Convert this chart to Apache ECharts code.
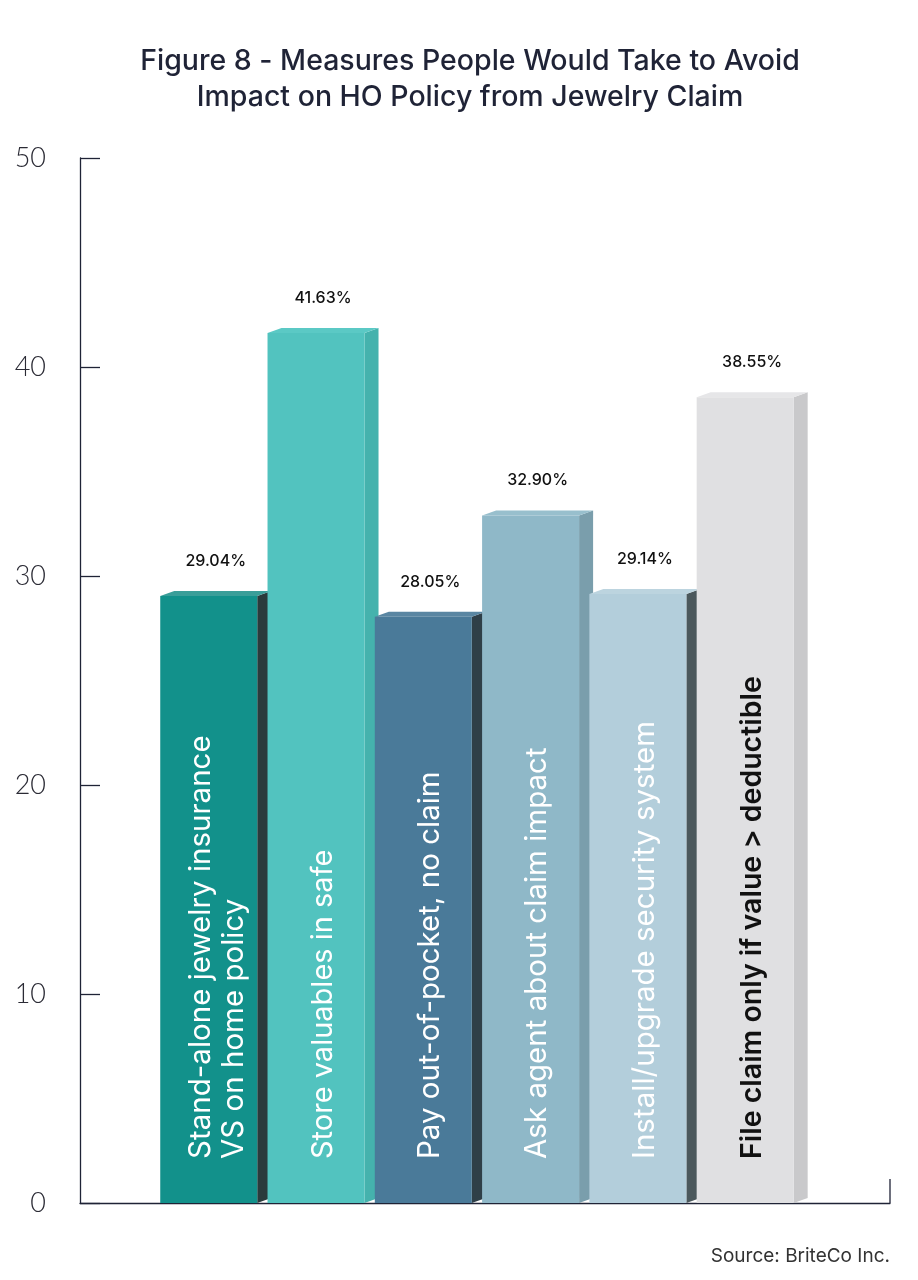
<!DOCTYPE html>
<html>
<head>
<meta charset="utf-8">
<script src="https://cdn.jsdelivr.net/npm/echarts@6/dist/echarts.min.js"></script>
<style>
html,body{margin:0;padding:0;background:#fff;}
#chart{width:918px;height:1280px;}
</style>
</head>
<body>
<div id="chart"></div>
<script>
// ---- data ----
const categories = [
  "Stand-alone jewelry insurance\nVS on home policy",
  "Store valuables in safe",
  "Pay out-of-pocket, no claim",
  "Ask agent about claim impact",
  "Install/upgrade security system",
  "File claim only if value > deductible"
];
const values = [29.04, 41.63, 28.05, 32.90, 29.14, 38.55];
const valueLabels = ["29.04%", "41.63%", "28.05%", "32.90%", "29.14%", "38.55%"];
const yTicks = [0, 10, 20, 30, 40, 50];

// ---- styles ----
const frontColors = ["#12918b", "#52c3bf", "#4a7a99", "#8fb8c8", "#b3cedb", "#e0e0e2"];
const litSideColors = ["#0e7a75", "#45b2ad", "#3e6984", "#7a9eac", "#9fb9c5", "#c9c9cb"];
const shadowSideColors = ["#2a3b3c", "#2a3b3c", "#2f3f48", "#3b4a52", "#4b585c", "#555"];
const topColors = ["#3a9e99", "#5bc9c5", "#5a86a2", "#98bfcd", "#bcd4df", "#e6e6e8"];
const textColors = ["#ffffff", "#ffffff", "#ffffff", "#ffffff", "#ffffff", "#111111"];
const textFonts = ["400 29.5px Inter", "400 29px Inter", "400 29.5px Inter", "400 29.5px Inter", "400 29.5px Inter", "600 28.5px Inter"];

const chart = echarts.init(document.getElementById('chart'), null, {renderer: 'canvas'});

const FRONT_W = 97, DX = 14, DY = 5;

function renderItem(params, api) {
  const idx = api.value(0);
  const val = api.value(1);
  const top = api.coord([idx, val]);
  const base = api.coord([idx, 0]);
  const x0 = top[0] - FRONT_W / 2;
  const x1 = top[0] + FRONT_W / 2;
  const yT = top[1], yB = base[1];
  const next = values[idx + 1];
  const sideColor = (next !== undefined && next > val) ? shadowSideColors[idx] : litSideColors[idx];
  return {
    type: 'group',
    children: [
      { type: 'polygon', shape: { points: [[x1, yT], [x1 + DX, yT - DY], [x1 + DX, yB - DY], [x1, yB]] },
        style: { fill: sideColor } },
      { type: 'polygon', shape: { points: [[x0, yT], [x0 + DX, yT - DY], [x1 + DX, yT - DY], [x1, yT]] },
        style: { fill: topColors[idx] } },
      { type: 'rect', shape: { x: x0, y: yT, width: FRONT_W, height: yB - yT },
        style: { fill: frontColors[idx] } },
      { type: 'text', x: top[0] + 7, y: yT - 35,
        style: { text: valueLabels[idx], fill: '#111', font: '500 16px Inter', align: 'center', verticalAlign: 'middle' } },
      { type: 'text', x: top[0] + 7 + (idx === 0 ? 2 : 0), y: yB - 44, rotation: Math.PI / 2,
        style: { text: categories[idx], fill: textColors[idx], font: textFonts[idx],
                 lineHeight: 33, align: 'left', verticalAlign: 'middle' } }
    ]
  };
}

const option = {
  animation: false,
  backgroundColor: '#ffffff',
  title: {
    text: 'Figure 8 - Measures People Would Take to Avoid\nImpact on HO Policy from Jewelry Claim',
    left: 465, top: 38, textAlign: 'center',
    textStyle: { fontFamily: 'Inter', fontSize: 28.5, fontWeight: 500, color: '#1f2336', lineHeight: 36 }
  },
  grid: { left: 80, right: 28, top: 158, bottom: 77 },
  xAxis: {
    type: 'value', min: -1.2, max: 6.35,
    axisLine: { show: true, onZero: false, lineStyle: { color: '#1f2336', width: 1.3 } },
    axisTick: { show: false }, axisLabel: { show: false }, splitLine: { show: false }
  },
  yAxis: {
    type: 'value', min: yTicks[0], max: yTicks[yTicks.length - 1], interval: 10,
    axisLine: { show: true, onZero: false, lineStyle: { color: '#1f2336', width: 1.3 } },
    axisTick: { show: true, inside: true, length: 20, lineStyle: { color: '#1f2336', width: 1.3 } },
    axisLabel: { fontFamily: 'Lato', fontSize: 27, fontWeight: 300, color: '#2b2b35', margin: 34, padding: [8, 0, 0, 0] },
    splitLine: { show: false }
  },
  series: [{
    type: 'custom',
    renderItem: renderItem,
    data: values.map((v, i) => [i, v]),
    clip: false
  }]
};
chart.setOption(option);

const p1 = chart.convertToPixel({ gridIndex: 0 }, [6.35, 0]);
chart.setOption({
  graphic: [
    { type: 'line', shape: { x1: p1[0], y1: p1[1], x2: p1[0], y2: p1[1] - 24 },
      style: { stroke: '#1f2336', lineWidth: 1.3 } },
    { type: 'text', right: 28, top: 1247,
      style: { text: 'Source: BriteCo Inc.', fill: '#333', font: '19px Inter' } }
  ]
});
</script>
</body>
</html>
